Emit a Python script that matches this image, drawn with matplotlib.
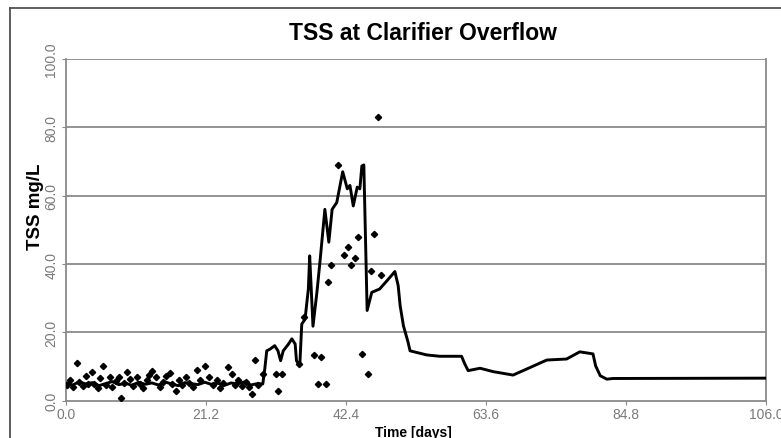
import matplotlib
matplotlib.use("Agg")
import matplotlib.pyplot as plt
from matplotlib.lines import Line2D

plt.rcParams['font.family'] = ['Liberation Sans', 'DejaVu Sans']

# Simulated TSS (line)
sim_days = [0, 1, 2, 3, 4, 5, 6, 7, 8, 9, 10, 11, 12, 13, 14, 15, 16, 17, 18, 19,
            20, 21, 22, 23, 24, 25, 26, 27, 28, 29, 29.8,
            30.1, 30.4, 30.9, 31.6, 32.1, 32.5, 32.9, 33.7, 34.2, 34.7, 34.9, 35.4,
            35.7, 36.2, 36.7, 36.9, 37.4, 38.0, 38.5, 39.2, 39.8, 40.3, 41.0, 41.9,
            42.6, 43.0, 43.5, 44.1, 44.5, 44.8, 45.1, 45.6, 46.3, 47.5, 48.6, 49.8,
            50.3, 50.6, 51.1, 51.8, 52.1, 54.6, 56.6, 59.9, 60.4, 60.9, 62.7, 64.7,
            67.7, 69.8, 72.8, 75.8, 77.8, 79.8, 80.2, 80.9, 81.9, 82.8, 106.0]
sim_tss = [5.2, 4.6, 5.5, 4.9, 5.3, 4.4, 5.0, 5.6, 4.7, 5.1, 4.5, 5.4, 4.8, 5.2, 4.6,
           5.5, 4.9, 4.4, 5.3, 5.0, 4.7, 5.4, 4.8, 5.1, 4.5, 5.2, 4.9, 5.5, 4.6, 5.0, 4.9,
           9.3, 14.6, 15.1, 16.1, 14.6, 11.7, 14.6, 16.6, 18.1, 16.6, 11.7, 10.2,
           22.4, 23.9, 32.7, 42.4, 21.8, 31.8, 41.5, 56.0, 46.4, 56.0, 58.0, 67.0,
           62.0, 63.0, 57.0, 62.5, 62.0, 68.7, 69.0, 26.4, 31.7, 32.7, 35.1, 37.8,
           33.7, 27.8, 21.9, 17.1, 14.6, 13.4, 13.0, 13.0, 10.7, 8.8, 9.5, 8.5,
           7.5, 9.3, 11.9, 12.2, 14.3, 13.7, 10.2, 7.3, 6.3, 6.5, 6.6]

# Measured TSS (points)
obs_days = [0.2, 0.6, 1.0, 1.6, 2.0, 2.5, 3.0, 3.4, 3.9, 4.3, 4.8, 5.2, 5.6, 6.1, 6.6,
            7.0, 7.5, 8.0, 8.4, 8.8, 9.2, 9.7, 10.2, 10.7, 11.2, 11.7, 12.2, 12.6,
            13.0, 13.7, 14.2, 14.7, 15.2, 15.7, 16.1, 16.6, 17.1, 17.6, 18.1, 18.6,
            19.2, 19.8, 20.3, 21.0, 21.7, 22.2, 22.8, 23.3, 23.8, 24.6, 25.1, 25.6,
            26.1, 26.7, 27.2, 27.7, 28.1, 28.6, 29.1, 29.8,
            31.8, 32.1, 32.7, 35.3, 36.1, 37.6, 38.1, 38.6, 39.4, 39.6, 40.1, 41.2,
            42.1, 42.7, 43.2, 43.7, 44.2, 44.8, 45.8, 46.2, 46.6, 47.2, 47.7]
obs_tss = [4.5, 6.0, 4.0, 10.9, 5.5, 4.2, 7.2, 4.8, 8.3, 5.0, 3.8, 6.5, 10.2, 4.6, 6.8,
           3.9, 5.9, 7.0, 0.7, 5.2, 8.3, 6.3, 4.2, 7.0, 5.0, 3.6, 6.0, 7.5,
           8.8, 6.9, 4.0, 5.6, 7.3, 8.0, 5.0, 2.7, 6.2, 4.5, 7.0, 5.2,
           3.9, 9.1, 6.0, 10.2, 7.0, 4.5, 6.0, 3.8, 5.3, 10.0, 7.8, 4.7,
           6.0, 4.2, 5.5, 3.9, 2.0, 12.0, 4.5, 7.8,
           7.8, 2.7, 7.8, 10.7, 24.6, 13.4, 4.9, 12.7, 4.9, 34.8, 39.7, 69.1,
           42.6, 44.9, 39.7, 41.8, 47.8, 13.7, 7.8, 37.9, 48.8, 82.9, 36.9]

x_ticks = [0.0, 21.2, 42.4, 63.6, 84.8, 106.0]
y_ticks = [0.0, 20.0, 40.0, 60.0, 80.0, 100.0]

title = "TSS at Clarifier Overflow"
xlabel = "Time [days]"
ylabel = "TSS mg/L"

W, H = 781, 439
fig = plt.figure(figsize=(W / 100, H / 100), dpi=100)

# outer frame
frame_col = '#505050'
fig.add_artist(Line2D([10 / W, 10 / W], [0, 1 - 9 / H], transform=fig.transFigure,
                      color=frame_col, lw=1.3))
fig.add_artist(Line2D([10 / W, 1], [1 - 9 / H, 1 - 9 / H], transform=fig.transFigure,
                      color=frame_col, lw=1.3))

ax = fig.add_axes([66 / W, 1 - 401.7 / H, 700 / W, 341.7 / H])
grid_col = '#8a8a8a'
ax.plot(sim_days, sim_tss, color='black', lw=2.1, zorder=3)
ax.plot(obs_days, obs_tss, linestyle='none', marker='D', markersize=3.2,
        color='black', zorder=4)

ax.set_xlim(0, 106)
ax.set_ylim(0, 100)
ax.set_xticks(x_ticks)
ax.set_xticklabels([f"{v:.1f}" for v in x_ticks])
ax.set_yticks(y_ticks)
ax.set_yticklabels([f"{v:.1f}" for v in y_ticks], rotation=90, va='center')
ax.tick_params(axis='both', colors=grid_col, labelcolor='#7a7a7a', labelsize=10,
               length=3, width=0.8)
ax.tick_params(axis='x', pad=1.5)
ax.tick_params(axis='y', pad=2.5)
for y in y_ticks[1:]:
    ax.axhline(y, color=grid_col, lw=1.3, zorder=1)
for s in ['left', 'bottom', 'right']:
    ax.spines[s].set_color(grid_col)
    ax.spines[s].set_linewidth(1.3)
ax.spines['top'].set_visible(False)

fig.text(423 / W, 1 - 33 / H, title, ha='center', va='center', fontsize=16.5,
         fontweight='bold')
fig.text(35 / W, 1 - 207 / H, ylabel, ha='center', va='center', rotation=90,
         fontsize=13.5, fontweight='bold')
fig.text(413 / W, 1 - 433 / H, xlabel, ha='center', va='center', fontsize=10,
         fontweight='bold')

fig.savefig("out.png", dpi=100)
